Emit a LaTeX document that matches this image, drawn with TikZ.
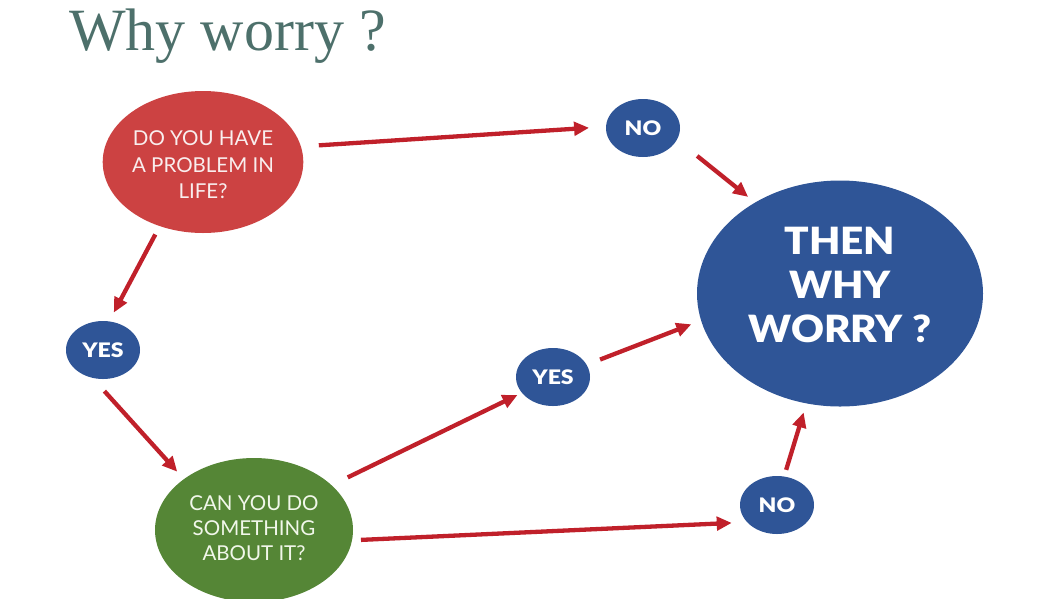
\documentclass[tikz,border=0pt]{standalone}
\usepackage{fontspec}
\setmainfont{Liberation Serif}
\newfontfamily\latoreg{Lato}
\newfontfamily\latobig{Lato Black}[FakeStretch=1.08]
\newfontfamily\latosmall{Lato Black}[FakeStretch=1.15]
\usetikzlibrary{shapes.geometric,arrows.meta}
\definecolor{titlecol}{HTML}{4D706B}
\definecolor{nodered}{HTML}{CC4242}
\definecolor{nodeblue}{HTML}{2F5597}
\definecolor{nodegreen}{HTML}{558636}
\definecolor{arrowred}{HTML}{C0202A}
\definecolor{redtext}{HTML}{F9EEEE}
\definecolor{greentext}{HTML}{F1F7EA}
\tikzset{
  ell/.style={ellipse, inner sep=0pt, outer sep=0pt, align=center},
  qred/.style={ell, fill=nodered, text=redtext, minimum width=198pt, minimum height=142pt,
    font=\latoreg\fontsize{20.5}{26.5}\selectfont},
  qgreen/.style={ell, fill=nodegreen, text=greentext, minimum width=198pt, minimum height=144pt,
    font=\latoreg\fontsize{20.5}{25}\selectfont},
  ansbox/.style={ell, fill=nodeblue, text=white, minimum width=74pt, minimum height=58pt,
    font=\latosmall\fontsize{20}{22}\selectfont},
  bigbox/.style={ell, fill=nodeblue, text=white, minimum width=286pt, minimum height=226pt,
    font=\latobig\fontsize{37.5}{44}\selectfont},
  arr/.style={line width=4.3pt, draw=arrowred, -{Triangle[length=15pt,width=13.5pt]}}
}
\begin{document}
\begin{tikzpicture}[x=1pt,y=-1pt]
\useasboundingbox (0,0) rectangle (1064,598);
\node[anchor=base west, inner sep=0pt, text=titlecol, font=\fontsize{60}{66}\selectfont] (title) at (69,50) {Why worry ?};
\node[qred] (q1) at (203,162) {\raisebox{-5pt}[\height][\depth]{\begin{tabular}{@{}c@{}}DO YOU HAVE\\A PROBLEM IN\\LIFE?\end{tabular}}};
\node[qgreen] (q2) at (254,530) {\begin{tabular}{@{}c@{}}CAN YOU DO\\SOMETHING\\ABOUT IT?\end{tabular}};
\node[ansbox] (no1) at (643,128) {NO};
\node[ansbox] (yes1) at (103,350) {YES};
\node[ansbox] (yes2) at (553,377) {YES};
\node[ansbox] (no2) at (777,505) {NO};
\node[bigbox] (big) at (840,293.5) {\raisebox{4pt}[\height][\depth]{\begin{tabular}{@{}c@{}}THEN\\WHY\\WORRY ?\end{tabular}}};
\draw[arr, shorten <=18pt, shorten >=17pt] (q1.9.5) -- (no1.178);
\draw[arr, shorten <=26pt, shorten >=9pt] (no1.-19) -- (big.133.6);
\draw[arr, shorten <=9.5pt, shorten >=10pt] (q1.-124.4) -- (yes1.78);
\draw[arr, shorten <=18pt, shorten >=10pt] (yes1.-111.7) -- (q2.144.3);
\draw[arr, shorten <=18pt, shorten >=5pt] (q2.30.5) -- (yes2.-153.4);
\draw[arr, shorten <=14.5pt, shorten >=10.5pt] (yes2.20.7) -- (big.-169.4);
\draw[arr, shorten <=9pt, shorten >=15.5pt] (q2.-6.6) -- (no2.-150.5);
\draw[arr, shorten <=7pt, shorten >=9.5pt] (no2.76) -- (big.-107.3);
\end{tikzpicture}
\end{document}
